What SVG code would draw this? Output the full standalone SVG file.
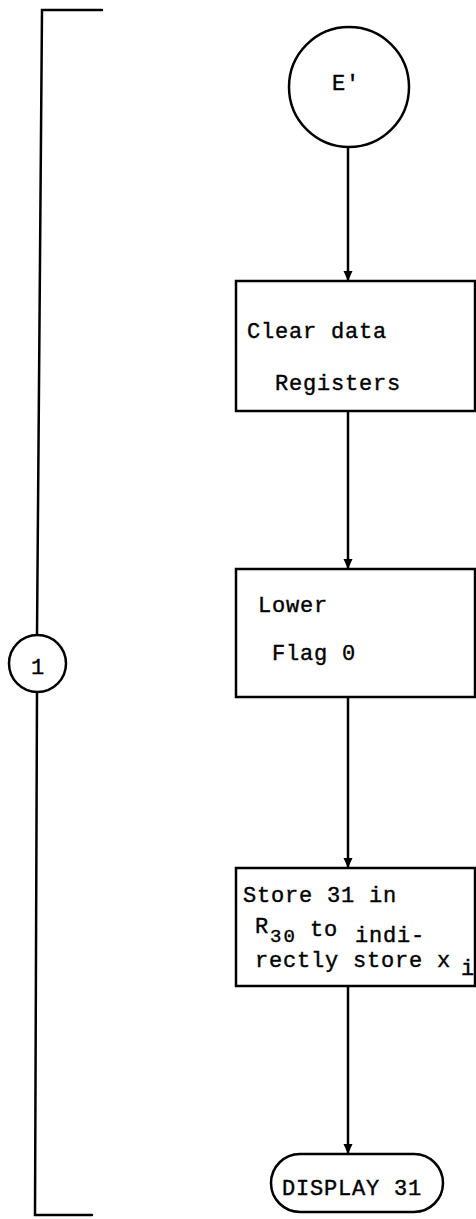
<svg xmlns="http://www.w3.org/2000/svg" width="476" height="1219" viewBox="0 0 476 1219">
<style>
.ln{stroke:#000;stroke-width:2.5;fill:none;stroke-linecap:round}
.nd{stroke:#000;stroke-width:2.5;fill:#fff}
.t{font-family:"Liberation Mono","Courier New",monospace;font-size:22px;fill:#000;stroke:#000;stroke-width:0.4;letter-spacing:0.8px}
.sub{font-size:19px;letter-spacing:2px}
</style>
<defs>
<marker id="ah" viewBox="0 0 10 16" refX="10" refY="8" markerWidth="10" markerHeight="16" markerUnits="userSpaceOnUse" orient="auto">
<path d="M0,3.5 L10,8 L0,12.5 Z" fill="#000"/>
</marker>
</defs>
<g id="bracket">
<path class="ln" d="M102,10 L42,10 L37,635"/>
<path class="ln" d="M37,692 L35,1215 L92,1215"/>
</g>
<g id="conn1">
<circle class="nd" cx="37.5" cy="663.5" r="28.5"/>
<text class="t" x="38" y="674" text-anchor="middle">1</text>
</g>
<g id="connectors">
<line class="ln" x1="348" y1="147" x2="348" y2="281" marker-end="url(#ah)"/>
<line class="ln" x1="348" y1="411" x2="348" y2="569" marker-end="url(#ah)"/>
<line class="ln" x1="348" y1="697" x2="348" y2="868" marker-end="url(#ah)"/>
<line class="ln" x1="348" y1="986" x2="348" y2="1154" marker-end="url(#ah)"/>
</g>
<g id="start">
<circle class="nd" cx="349" cy="87" r="60"/>
<text class="t" x="346" y="90" text-anchor="middle">E'</text>
</g>
<g id="clear">
<rect class="nd" x="236" y="281" width="239" height="130"/>
<text class="t" x="247" y="338">Clear data</text>
<text class="t" x="275" y="390">Registers</text>
</g>
<g id="lower">
<rect class="nd" x="236" y="569" width="239" height="128"/>
<text class="t" x="258" y="612">Lower</text>
<text class="t" x="272" y="660">Flag 0</text>
</g>
<g id="store">
<rect class="nd" x="236" y="868" width="239" height="118"/>
<text class="t" x="243" y="902">Store 31 in</text>
<text class="t" x="255" y="933">R</text>
<text class="t sub" x="270" y="942">30</text>
<text class="t" x="310" y="936">to</text>
<text class="t" x="355" y="942">indi-</text>
<text class="t" x="255" y="967">rectly store x</text>
<text class="t" x="461" y="975">i</text>
</g>
<g id="display">
<rect class="nd" x="271" y="1154" width="172" height="58" rx="29" ry="29"/>
<text class="t" x="282" y="1195">DISPLAY 31</text>
</g>
</svg>
